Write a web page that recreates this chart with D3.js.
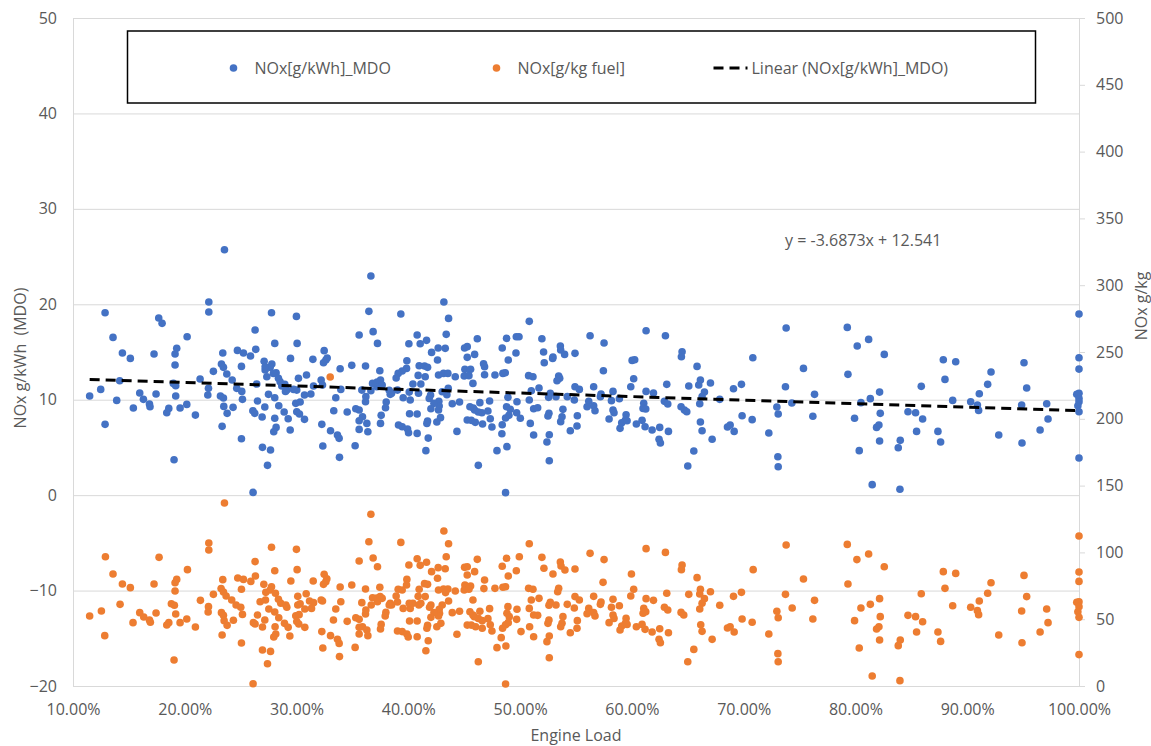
<!DOCTYPE html>
<html>
<head>
<meta charset="utf-8">
<script src="https://d3js.org/d3.v7.min.js"></script>
<style>
  body { margin: 0; background: #ffffff; }
  svg text { font-family: "Open Sans", sans-serif; fill: #595959; }
</style>
</head>
<body>
<div id="chart"></div>
<script>
// engine load (%) vs NOx [g/kWh] for MDO
var kwhPoints = [
  [23.55,25.72],[22.15,20.24],[22.15,19.19],[12.87,19.12],[17.67,18.56],[17.97,18.00],[27.76,19.12],[29.99,18.73],[26.29,17.30],[13.58,16.53],
  [20.21,16.60],[28.05,15.90],[30.05,15.90],[19.28,15.38],[19.13,14.79],[17.25,14.79],[14.42,14.89],[15.13,14.33],[23.40,14.89],[24.71,15.17],
  [25.25,14.89],[25.88,14.58],[26.35,15.28],[27.10,14.02],[27.79,13.74],[29.46,14.33],[31.46,14.23],[19.13,13.63],[23.28,13.74],[23.46,13.39],
  [25.07,13.49],[22.56,12.97],[27.19,13.11],[27.64,13.39],[28.17,12.83],[23.76,12.69],[21.37,12.17],[14.18,11.99],[18.98,11.71],[19.19,11.47],
  [22.12,11.19],[24.24,12.06],[24.65,11.19],[25.10,10.87],[26.44,11.64],[27.34,12.41],[28.38,12.24],[28.68,11.43],[29.13,11.01],[30.17,12.24],
  [30.89,12.59],[30.02,11.01],[31.28,10.60],[12.48,11.08],[11.49,10.39],[15.97,10.70],[16.30,10.04],[17.43,10.60],[19.19,10.39],[22.06,10.49],
  [23.19,10.39],[23.46,10.18],[25.16,10.04],[13.91,9.93],[15.40,9.13],[16.84,9.55],[16.89,9.27],[18.57,9.09],[18.39,8.64],[19.58,9.13],
  [20.18,9.51],[20.95,8.39],[23.49,9.30],[23.79,8.57],[24.32,9.20],[26.50,9.86],[27.49,10.56],[28.05,10.21],[27.16,9.23],[26.09,8.85],
  [26.26,8.57],[26.92,8.19],[28.41,9.37],[28.89,8.71],[29.93,9.62],[30.32,9.76],[30.02,8.74],[30.26,8.50],[30.71,7.94],[28.05,8.05],
  [29.25,8.01],[28.17,7.10],[27.96,6.65],[29.43,6.82],[12.87,7.42],[23.34,7.21],[25.07,5.91],[26.95,5.01],[27.67,4.73],[19.04,3.71],
  [27.40,3.12],[26.11,0.29],[30.71,10.49],[31.52,11.43],[27.93,12.76],[28.53,11.89],[28.95,11.61],[29.01,10.87],[29.73,11.08],[27.19,13.46],
  [36.65,22.96],[36.47,19.26],[36.85,17.13],[37.24,15.90],[35.60,16.78],[39.33,18.98],[43.18,20.24],[43.60,18.52],[43.39,16.85],[40.05,15.87],
  [40.79,16.78],[41.06,15.87],[41.63,16.22],[42.08,14.96],[42.61,14.16],[42.67,15.42],[43.30,15.38],[39.87,14.09],[39.84,13.28],[39.09,12.76],
  [40.97,13.56],[41.45,13.53],[41.72,13.39],[40.88,12.55],[40.41,11.64],[41.12,11.64],[42.70,12.59],[43.15,12.76],[43.54,12.76],[44.20,12.41],
  [45.03,15.42],[45.27,15.56],[45.93,14.75],[45.27,14.44],[46.17,16.39],[45.06,13.18],[45.57,13.18],[45.00,12.48],[45.42,12.52],[45.78,11.71],
  [46.82,13.46],[46.73,13.77],[46.82,12.62],[47.75,12.59],[48.46,12.76],[48.67,12.83],[48.40,15.42],[48.79,16.43],[49.66,16.60],[49.90,16.60],
  [48.94,14.16],[49.63,14.89],[50.82,18.21],[51.95,16.39],[52.10,15.00],[52.91,14.33],[53.60,15.62],[53.63,15.21],[53.98,14.75],[54.91,14.86],
  [52.94,14.47],[52.16,13.88],[50.76,12.52],[51.15,12.41],[51.69,11.22],[51.00,10.94],[53.45,12.48],[53.54,12.24],[53.30,11.99],[54.91,11.36],
  [55.30,11.08],[54.85,9.97],[54.22,10.32],[53.21,10.32],[52.70,10.67],[52.55,10.25],[50.82,9.97],[51.21,9.06],[51.57,9.16],[52.58,8.57],
  [52.49,8.29],[53.83,8.99],[53.75,8.22],[53.63,7.70],[55.12,8.32],[55.09,7.24],[54.49,6.75],[52.61,6.33],[52.40,5.57],[52.61,3.61],
  [51.21,6.30],[50.91,7.52],[50.02,8.05],[49.69,8.64],[49.72,9.79],[48.91,10.25],[48.79,9.27],[49.12,8.99],[49.00,8.36],[48.70,8.08],
  [48.40,7.38],[48.37,6.44],[48.82,5.08],[47.93,4.66],[48.70,0.26],[46.26,3.12],[47.48,7.14],[47.33,8.01],[47.12,8.81],[46.40,9.69],
  [47.27,9.86],[46.58,8.64],[46.26,8.71],[45.93,8.92],[45.81,9.13],[45.51,9.27],[45.27,7.87],[45.63,7.84],[45.99,7.63],[46.64,7.45],
  [44.35,6.68],[44.58,9.76],[43.93,9.58],[43.45,10.53],[43.57,11.19],[43.03,10.84],[42.73,9.83],[42.76,9.34],[42.70,8.92],[42.55,7.66],
  [42.88,8.12],[41.99,10.49],[41.87,10.14],[42.29,9.62],[42.02,9.06],[41.72,7.77],[41.66,7.52],[41.78,5.98],[41.57,4.66],[40.79,6.47],
  [40.79,8.50],[40.11,8.53],[40.17,9.97],[39.54,10.21],[40.91,10.67],[40.08,10.80],[39.12,7.35],[39.45,7.17],[39.93,6.93],[40.02,6.54],
  [38.50,10.67],[38.38,10.56],[38.02,9.76],[37.96,9.16],[37.57,8.36],[37.51,7.52],[37.45,13.04],[37.51,12.06],[37.21,11.85],[37.18,11.36],
  [36.80,11.71],[36.65,10.94],[36.17,13.53],[35.84,11.01],[36.17,9.79],[36.20,10.32],[35.30,9.06],[35.60,8.92],[35.90,8.22],[35.60,7.80],
  [36.29,7.52],[36.38,6.65],[35.60,6.89],[35.24,5.18],[34.53,8.71],[34.94,13.60],[33.90,13.25],[33.51,10.21],[33.33,8.85],[33.04,6.75],
  [33.66,6.30],[33.81,5.95],[33.84,3.96],[33.96,11.08],[32.26,7.42],[32.35,5.15],[32.47,15.14],[32.62,14.16],[32.74,14.37],[32.41,13.88],
  [32.20,12.06],[32.32,11.54],[37.66,11.54],[39.03,11.01],[38.29,10.98],[39.45,13.01],[38.91,12.27],[41.51,12.41],
  [56.26,16.71],[57.51,15.94],[61.27,17.23],[63.00,16.71],[73.80,17.51],[60.02,14.12],[60.25,14.19],[57.45,13.04],[64.49,15.03],[64.43,14.51],
  [65.83,13.49],[70.82,14.40],[75.35,13.28],[60.16,12.20],[56.58,11.36],[59.90,11.36],[63.12,11.61],[65.09,11.43],[65.98,11.54],[66.13,12.06],
  [67.03,11.75],[66.49,10.80],[69.09,11.15],[69.80,11.61],[73.74,11.36],[76.34,10.56],[57.24,10.60],[58.31,10.87],[57.18,10.32],[58.17,9.90],
  [58.88,10.11],[61.27,10.87],[61.93,10.70],[66.28,10.32],[67.86,10.04],[56.14,9.83],[56.58,9.37],[55.99,9.27],[56.70,8.85],[58.31,8.92],
  [58.40,8.64],[57.96,7.98],[59.48,8.43],[59.42,7.87],[59.09,7.59],[59.57,7.80],[58.94,7.00],[60.40,7.45],[60.91,7.84],[61.18,7.17],
  [61.06,9.62],[61.00,9.09],[61.24,9.02],[62.91,9.83],[63.21,9.55],[66.07,9.58],[64.40,9.27],[64.70,8.92],[64.91,8.74],[61.81,6.82],
  [62.49,7.10],[63.27,6.68],[62.43,5.85],[62.55,5.46],[66.13,7.66],[66.28,6.75],[67.18,5.85],[65.54,4.62],[65.00,3.05],[68.55,7.14],
  [68.79,7.35],[69.15,6.68],[69.86,8.32],[70.76,7.91],[72.25,6.51],[72.97,9.23],[73.09,8.50],[73.06,4.03],[73.09,2.98],[74.31,9.65],
  [76.19,8.26],
  [100.0,18.98],[79.27,17.58],[81.18,16.32],[80.16,15.63],[82.58,14.75],[79.33,12.66],[87.86,14.19],[88.97,13.98],[88.01,12.13],[85.89,11.40],
  [95.08,13.88],[92.13,12.90],[91.83,11.61],[95.32,11.22],[82.16,10.80],[81.33,10.11],[80.49,9.69],[91.08,10.63],[90.31,9.79],[88.70,9.93],
  [90.91,9.44],[91.02,8.88],[94.87,9.44],[97.11,9.58],[100.0,14.40],[100.0,13.21],[99.80,10.56],[100.0,10.67],[100.0,10.14],[100.0,9.79],
  [99.90,9.37],[100.0,8.74],[79.92,8.05],[82.22,8.57],[84.70,8.74],[85.38,8.64],[86.01,7.98],[81.89,7.10],[82.10,7.35],[85.47,6.68],
  [87.38,6.68],[87.62,5.57],[82.16,5.67],[84.01,5.74],[83.83,4.97],[80.34,4.66],[92.82,6.30],[94.90,5.46],[96.52,6.82],[97.23,7.98],
  [100.0,3.89],[81.50,1.10],[83.98,0.61]
];

// engine load (%) vs NOx [g/kg fuel]
var fuelPoints = [
  [23.55,137.0],[22.15,107.0],[22.15,101.8],[12.90,96.8],[17.70,96.3],[27.76,103.8],[29.99,102.3],[26.29,93.1],[20.24,87.1],[13.58,83.8],
  [14.42,76.3],[15.13,73.6],[17.25,76.3],[19.28,79.8],[19.13,77.3],[19.13,71.1],[23.40,79.6],[24.74,80.8],[25.25,79.8],[25.91,78.3],
  [26.32,82.3],[28.05,86.3],[30.05,87.1],[29.49,78.6],[31.49,78.6],[27.07,76.1],[27.76,74.3],[25.07,72.4],[23.25,72.9],[23.46,70.4],
  [22.56,68.6],[23.70,67.4],[21.40,64.1],[27.25,70.1],[27.64,71.9],[28.11,69.4],[14.21,61.1],[18.80,61.6],[19.07,60.4],[22.12,59.4],
  [22.09,55.4],[24.20,64.4],[24.59,60.6],[25.01,58.9],[26.74,63.1],[27.22,64.4],[28.38,64.9],[28.59,61.9],[29.04,60.6],[29.13,58.9],
  [30.11,67.1],[30.86,69.1],[30.11,60.6],[30.32,61.6],[31.16,63.6],[31.52,62.4],[31.34,58.1],[30.74,57.6],[12.54,56.1],[11.49,52.4],
  [15.97,54.9],[16.33,51.6],[17.43,54.6],[19.19,53.9],[23.28,54.9],[23.46,52.9],[25.16,53.6],[15.37,47.4],[16.84,49.4],[16.92,47.7],
  [18.57,47.4],[18.39,45.7],[19.58,47.4],[20.18,50.1],[20.95,44.2],[23.52,48.9],[23.79,45.4],[24.35,49.2],[26.50,53.1],[27.52,57.6],
  [28.05,55.4],[27.16,49.4],[26.14,47.4],[26.29,46.4],[26.95,44.2],[28.41,51.1],[28.92,46.9],[29.93,52.6],[30.23,53.4],[30.02,48.2],
  [30.20,46.4],[30.74,43.9],[28.08,44.4],[29.25,43.9],[28.14,38.9],[27.96,36.7],[29.40,37.4],[12.84,37.7],[23.34,38.2],[25.07,32.2],
  [26.95,26.9],[27.67,25.9],[19.04,19.5],[27.40,16.7],[26.11,1.7],
  [36.65,128.5],[36.47,108.0],[36.85,95.8],[37.24,89.3],[35.60,93.6],[39.33,107.5],[43.18,116.0],[43.60,106.5],[43.39,96.8],[40.05,90.6],
  [40.79,95.3],[41.06,90.3],[41.63,92.6],[42.08,85.6],[42.61,80.6],[42.67,88.6],[43.30,87.8],[39.87,79.8],[39.84,75.6],[39.09,72.4],
  [40.97,72.4],[41.45,76.6],[41.72,76.1],[40.88,67.1],[40.41,61.9],[41.12,61.9],[42.70,71.9],[43.15,72.6],[43.54,72.6],[44.20,71.1],
  [45.03,88.8],[45.27,89.3],[45.93,85.6],[45.27,83.1],[46.17,94.8],[45.06,75.6],[45.57,74.8],[45.00,71.9],[45.42,72.4],[45.78,64.4],
  [46.82,79.3],[46.76,72.9],[47.75,73.1],[48.46,73.9],[48.70,74.3],[48.40,89.6],[48.79,95.6],[49.66,86.3],[49.93,96.8],[48.94,82.3],
  [50.82,106.5],[51.95,96.3],[52.13,88.1],[52.94,83.8],[53.60,92.8],[53.66,89.8],[54.01,86.8],[54.91,87.6],[50.76,73.1],[51.15,72.4],
  [51.69,65.6],[51.00,64.4],[53.45,73.1],[53.36,70.6],[54.91,66.9],[55.30,64.4],[54.85,58.4],[54.22,61.1],[53.21,60.6],[52.70,62.6],
  [52.58,60.4],[50.82,58.1],[51.21,53.1],[51.57,52.9],[52.58,49.4],[52.49,46.9],[53.83,51.9],[53.75,46.9],[53.63,44.4],[55.12,48.9],
  [55.09,43.2],[54.49,39.9],[52.61,37.4],[52.40,33.2],[52.61,21.2],[51.21,36.9],[50.85,44.4],[50.08,40.7],[49.69,49.9],[49.72,57.4],
  [48.91,59.4],[48.82,54.4],[49.03,51.9],[48.94,47.4],[48.70,45.9],[48.43,43.2],[48.31,36.2],[48.73,29.9],[47.93,28.7],[48.70,1.5],
  [46.26,18.2],[47.48,41.2],[47.33,45.9],[47.12,50.4],[46.40,55.9],[47.27,57.9],[46.61,48.9],[46.26,50.6],[45.90,51.9],[45.78,53.1],
  [45.51,55.6],[45.27,45.6],[45.63,45.6],[46.02,44.4],[46.61,43.2],[44.35,38.7],[44.58,55.9],[43.93,54.9],[43.60,63.6],[43.33,69.9],
  [43.03,60.6],[42.76,57.4],[42.79,54.4],[42.70,52.4],[42.55,44.4],[42.91,46.9],[42.02,60.6],[41.90,58.9],[42.29,54.9],[42.02,51.4],
  [41.72,45.4],[41.66,43.2],[41.78,33.9],[41.57,26.4],[40.79,36.9],[40.79,48.6],[40.11,48.6],[40.17,58.1],[39.54,58.1],[40.94,60.6],
  [40.08,61.9],[39.03,41.2],[39.45,40.7],[39.87,38.9],[39.99,36.7],[38.50,60.6],[38.38,61.9],[37.99,55.1],[37.93,52.4],[37.57,46.1],
  [37.51,42.7],[37.45,73.9],[37.48,66.9],[37.18,65.9],[37.24,63.1],[36.80,66.1],[36.68,60.6],[36.17,72.6],[35.84,62.4],[36.17,53.9],
  [36.20,56.9],[35.30,51.1],[35.60,49.9],[35.90,44.4],[35.60,43.9],[36.29,41.9],[36.38,37.7],[35.60,38.9],[35.24,28.9],[34.53,48.4],
  [34.94,75.6],[33.90,74.1],[33.51,57.6],[33.30,49.4],[33.04,37.7],[33.66,34.9],[33.81,31.9],[33.84,22.0],[33.96,63.1],[32.26,40.7],
  [32.35,28.4],[32.47,83.6],[32.62,78.1],[32.71,80.3],[32.41,76.1],[32.20,64.4],[32.32,63.6],[37.66,65.6],[39.03,62.9],[38.29,60.6],
  [39.45,71.9],[38.91,67.4],[41.51,66.9],[33.01,231.3],
  [56.26,99.3],[57.51,94.6],[61.27,102.8],[63.00,100.0],[73.80,105.5],[59.96,83.8],[60.16,72.4],[57.42,77.6],[64.49,90.6],[64.43,87.1],
  [65.83,81.1],[70.85,87.1],[75.35,80.1],[59.90,67.4],[56.58,67.1],[63.12,69.4],[65.09,68.6],[66.13,72.4],[66.07,68.9],[67.03,70.6],
  [66.49,65.4],[69.09,67.1],[69.80,70.1],[73.74,68.6],[76.34,64.1],[57.24,62.9],[58.31,64.9],[57.18,61.1],[58.17,58.9],[58.88,60.1],
  [61.27,65.4],[61.93,64.1],[66.28,61.9],[67.86,60.4],[56.14,58.1],[56.58,54.9],[55.99,54.1],[56.70,52.4],[58.31,53.1],[58.40,50.6],
  [57.96,47.4],[59.48,50.6],[59.42,46.9],[59.09,44.9],[59.57,46.1],[58.94,41.9],[60.40,44.4],[60.91,46.1],[61.18,42.4],[61.06,58.1],
  [61.00,54.4],[61.24,55.6],[62.91,58.9],[63.21,56.9],[66.07,57.6],[64.40,55.1],[64.64,53.1],[66.16,45.9],[66.28,40.9],[67.18,34.9],
  [65.54,27.4],[65.00,18.2],[61.81,40.4],[62.49,42.9],[63.27,39.9],[62.43,34.9],[62.55,32.4],[68.55,43.4],[68.79,44.4],[69.15,40.4],
  [69.86,50.1],[70.76,47.7],[72.25,38.9],[72.97,55.9],[73.09,51.1],[73.06,24.2],[73.09,18.2],[74.34,58.4],[76.19,50.1],
  [100.0,112.3],[79.27,106.0],[81.18,98.8],[80.13,94.6],[82.58,89.3],[79.33,76.3],[87.86,85.6],[88.97,84.3],[88.01,73.1],[85.89,69.1],
  [95.08,82.8],[92.13,77.3],[91.83,69.4],[95.32,66.9],[82.16,65.4],[81.33,61.1],[80.49,58.4],[91.08,63.6],[90.31,58.9],[88.70,60.1],
  [90.91,56.4],[91.02,53.4],[94.87,56.1],[97.11,57.6],[100.0,85.3],[100.0,78.3],[99.80,62.6],[100.0,63.1],[100.0,59.4],[99.90,55.6],
  [100.0,51.4],[79.92,48.9],[82.22,51.9],[84.70,52.9],[85.38,51.9],[86.01,48.1],[81.89,42.7],[82.10,44.4],[85.47,40.4],[87.38,40.4],
  [87.62,33.4],[82.16,34.4],[84.01,34.4],[83.83,30.2],[80.34,28.4],[92.82,38.2],[94.90,32.4],[96.52,40.4],[97.23,47.4],[100.0,23.5],
  [81.50,7.5],[83.98,4.0]
];

// axis ticks
var loadTicks = [10, 20, 30, 40, 50, 60, 70, 80, 90, 100]
var kwhTicks = [-20, -10, 0, 10, 20, 30, 40, 50]
var fuelTicks = [0, 50, 100, 150, 200, 250, 300, 350, 400, 450, 500]

// linear trend of the MDO series (x as fraction of load)
var trendSlope = -3.6873, trendIntercept = 12.541

var seriesNames = ['NOx[g/kWh]_MDO', 'NOx[g/kg fuel]', 'Linear (NOx[g/kWh]_MDO)']
var blue = '#4472c4', orange = '#ed7d31'

// Variables
var margin = { top: 18, right: 72, bottom: 60, left: 73 }
var width = 1006, height = 668
var dotR = 3.8

// Scales
var xScale = d3.scaleLinear().domain([10, 100]).range([0, width])
var yLeft = d3.scaleLinear().domain([-20, 50]).range([height, 0])
var yRight = d3.scaleLinear().domain([0, 500]).range([height, 0])

// SVG
var svg = d3.select('#chart').append('svg')
  .attr('width', 1151)
  .attr('height', 746)
  .append('g')
  .attr('transform', 'translate(' + margin.left + ',' + margin.top + ')')

// gridlines
svg.append('g')
  .attr('class', 'grid')
  .call(d3.axisLeft(yLeft).tickValues(kwhTicks).tickSize(-width).tickFormat(''))
  .call(function (g) { g.select('.domain').remove() })
  .selectAll('line').attr('stroke', '#d9d9d9').attr('stroke-width', 1)

// left axis
var leftAxis = svg.append('g')
  .call(d3.axisLeft(yLeft).tickValues(kwhTicks).tickSize(0).tickPadding(16))
leftAxis.select('.domain').attr('stroke', '#d9d9d9')
leftAxis.selectAll('text').attr('font-size', 16).style('font-family', '"Open Sans", sans-serif').attr('fill', '#595959')

// right axis
var rightAxis = svg.append('g')
  .attr('transform', 'translate(' + width + ',0)')
  .call(d3.axisRight(yRight).tickValues(fuelTicks).tickSize(6).tickPadding(11))
rightAxis.select('.domain').attr('stroke', '#d9d9d9')
rightAxis.selectAll('line').attr('stroke', '#d9d9d9')
rightAxis.selectAll('text').attr('font-size', 16).style('font-family', '"Open Sans", sans-serif').attr('fill', '#595959')

// bottom axis
var bottomAxis = svg.append('g')
  .attr('transform', 'translate(0,' + height + ')')
  .call(d3.axisBottom(xScale).tickValues(loadTicks).tickSize(0)
    .tickFormat(function (d) { return d.toFixed(2) + '%' }))
bottomAxis.select('.domain').attr('stroke', '#d9d9d9')
bottomAxis.selectAll('text')
  .attr('y', 23).attr('dy', '0.35em')
  .attr('font-size', 16).style('font-family', '"Open Sans", sans-serif').attr('fill', '#595959')

// draw the circles
svg.append('g').selectAll('circle')
  .data(kwhPoints)
  .enter().append('circle')
  .attr('cx', function (d) { return xScale(d[0]) })
  .attr('cy', function (d) { return yLeft(d[1]) })
  .attr('r', dotR)
  .style('fill', blue)

svg.append('g').selectAll('circle')
  .data(fuelPoints)
  .enter().append('circle')
  .attr('cx', function (d) { return xScale(d[0]) })
  .attr('cy', function (d) { return yRight(d[1]) })
  .attr('r', dotR)
  .style('fill', orange)

// trend line
var loadRange = d3.extent(kwhPoints, function (d) { return d[0] })
svg.append('line')
  .attr('x1', xScale(loadRange[0]))
  .attr('x2', xScale(loadRange[1]))
  .attr('y1', yLeft(trendSlope * loadRange[0] / 100 + trendIntercept))
  .attr('y2', yLeft(trendSlope * loadRange[1] / 100 + trendIntercept))
  .attr('stroke', '#000')
  .attr('stroke-width', 3)
  .attr('stroke-dasharray', '10,6')

svg.append('text')
  .attr('x', 712)
  .attr('y', 222)
  .attr('dy', '0.35em')
  .attr('font-size', 16)
  .text('y = -3.6873x + 12.541')

// axis titles
svg.append('text')
  .attr('transform', 'translate(-53,' + (height / 2 + 6) + ') rotate(-90)')
  .attr('text-anchor', 'middle')
  .attr('dy', '0.35em')
  .attr('font-size', 16)
  .style('white-space', 'pre')
  .text('NOx g/kWh  (MDO)')

svg.append('text')
  .attr('transform', 'translate(' + (width + 62) + ',' + (height / 2 - 46) + ') rotate(-90)')
  .attr('text-anchor', 'middle')
  .attr('dy', '0.35em')
  .attr('font-size', 16)
  .text('NOx g/kg')

svg.append('text')
  .attr('x', width / 2)
  .attr('y', 717)
  .attr('dy', '0.35em')
  .attr('text-anchor', 'middle')
  .attr('font-size', 16)
  .text('Engine Load')

//legend
var legend = svg.append('g').attr('transform', 'translate(' + (127.5 - margin.left) + ',' + (31 - margin.top) + ')')
legend.append('rect')
  .attr('width', 908)
  .attr('height', 72)
  .attr('fill', '#fff')
  .attr('stroke', '#000')
  .attr('stroke-width', 1.5)

legend.append('circle').attr('cx', 106).attr('cy', 37).attr('r', dotR).style('fill', blue)
legend.append('text').attr('x', 127).attr('y', 37).attr('dy', '0.35em').attr('font-size', 16).text(seriesNames[0])
legend.append('circle').attr('cx', 369).attr('cy', 37).attr('r', dotR).style('fill', orange)
legend.append('text').attr('x', 390).attr('y', 37).attr('dy', '0.35em').attr('font-size', 16).text(seriesNames[1])
legend.append('line')
  .attr('x1', 586).attr('x2', 620).attr('y1', 37).attr('y2', 37)
  .attr('stroke', '#000').attr('stroke-width', 3).attr('stroke-dasharray', '10,6')
legend.append('text').attr('x', 624).attr('y', 37).attr('dy', '0.35em').attr('font-size', 16).text(seriesNames[2])
</script>
</body>
</html>
